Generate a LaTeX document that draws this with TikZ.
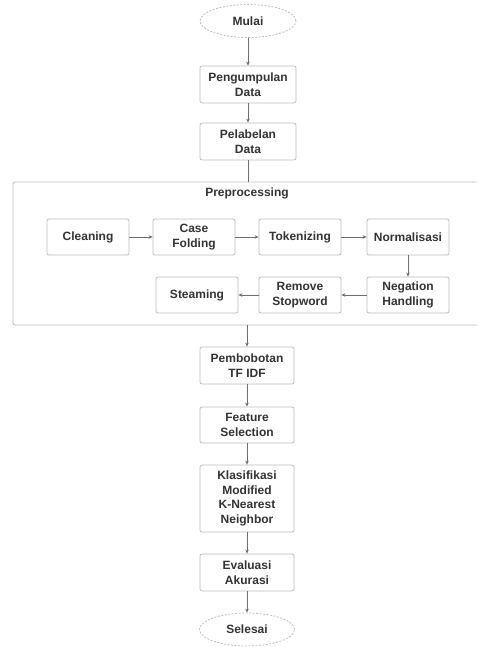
\documentclass[tikz,border=0pt]{standalone}
\usepackage{fontspec}
\setmainfont{Liberation Sans}
\usetikzlibrary{arrows.meta,shapes.geometric}
\definecolor{txt}{HTML}{333333}
\definecolor{bord}{HTML}{BDBDBD}
\definecolor{arr}{HTML}{6E6E6E}
\tikzset{
  box/.style={draw=bord, line width=0.8pt, rounded corners=2pt, fill=white, align=center,
    text=txt, font=\fontsize{12}{14.5}\selectfont\bfseries, inner sep=0pt},
  term/.style={ellipse, draw=bord, dash pattern=on 2pt off 1.5pt, line width=0.8pt, align=center,
    text=txt, font=\fontsize{12}{14.5}\selectfont\bfseries, inner sep=0pt,
    minimum width=96pt, minimum height=33pt},
  conn/.style={draw=arr, line width=0.6pt, -{Stealth[length=4pt,width=3.5pt]}},
  plain/.style={draw=arr, line width=0.6pt}
}
\begin{document}
\begin{tikzpicture}[x=1pt,y=-1pt]
\clip (0,0) rectangle (477,647);
\useasboundingbox (0,0) rectangle (477,647);
% main column
\node[term] (mulai) at (248,21) {Mulai};
\node[box, minimum width=96pt, minimum height=37pt] (kumpul) at (248,84.5) {Pengumpulan\\Data};
\node[box, minimum width=96pt, minimum height=37pt] (label) at (248,141.5) {Pelabelan\\Data};
% frame
\draw[draw=bord, line width=0.8pt, rounded corners=2pt] (13,182) rectangle (490,325);
\coordinate (ftop) at (248,182);
\coordinate (fbot) at (247,325);
\node[text=txt, font=\fontsize{12}{14.5}\selectfont\bfseries] (pre) at (247,193) {Preprocessing};
% row 1
\node[box, minimum width=82pt, minimum height=36pt] (clean) at (88,237) {Cleaning};
\node[box, minimum width=82pt, minimum height=36pt] (case) at (194,237) {Case\\Folding};
\node[box, minimum width=82pt, minimum height=36pt] (token) at (300,237) {Tokenizing};
\node[box, minimum width=82pt, minimum height=36pt] (norm) at (408,237) {Normalisasi};
% row 2
\node[box, minimum width=82pt, minimum height=36pt] (steam) at (197,295) {Steaming};
\node[box, minimum width=82pt, minimum height=36pt] (stop) at (300,295) {Remove\\Stopword};
\node[box, minimum width=82pt, minimum height=36pt] (neg) at (408,295) {Negation\\Handling};
% lower column
\node[box, minimum width=94pt, minimum height=37pt] (bobot) at (247,365.5) {Pembobotan\\TF IDF};
\node[box, minimum width=94pt, minimum height=36pt] (fitur) at (247,425) {Feature\\Selection};
\node[box, minimum width=94pt, minimum height=67pt] (klas) at (247,498.5) {Klasifikasi\\Modified\\K-Nearest\\Neighbor};
\node[box, minimum width=94pt, minimum height=37pt] (eval) at (247,572.5) {Evaluasi\\Akurasi};
\node[term, minimum width=95pt] (selesai) at (247,629.5) {Selesai};
% connectors
\draw[conn] (mulai) -- (kumpul);
\draw[conn] (kumpul) -- (label);
\draw[plain] (label) -- (ftop);
\draw[conn] (clean) -- (case);
\draw[conn] (case) -- (token);
\draw[conn] (token) -- (norm);
\draw[conn] (norm) -- (neg);
\draw[conn] (neg) -- (stop);
\draw[conn] (stop) -- (steam);
\draw[conn] (fbot) -- (bobot);
\draw[conn] (bobot) -- (fitur);
\draw[conn] (fitur) -- (klas);
\draw[conn] (klas) -- (eval);
\draw[conn] (eval) -- (selesai);
\end{tikzpicture}
\end{document}
